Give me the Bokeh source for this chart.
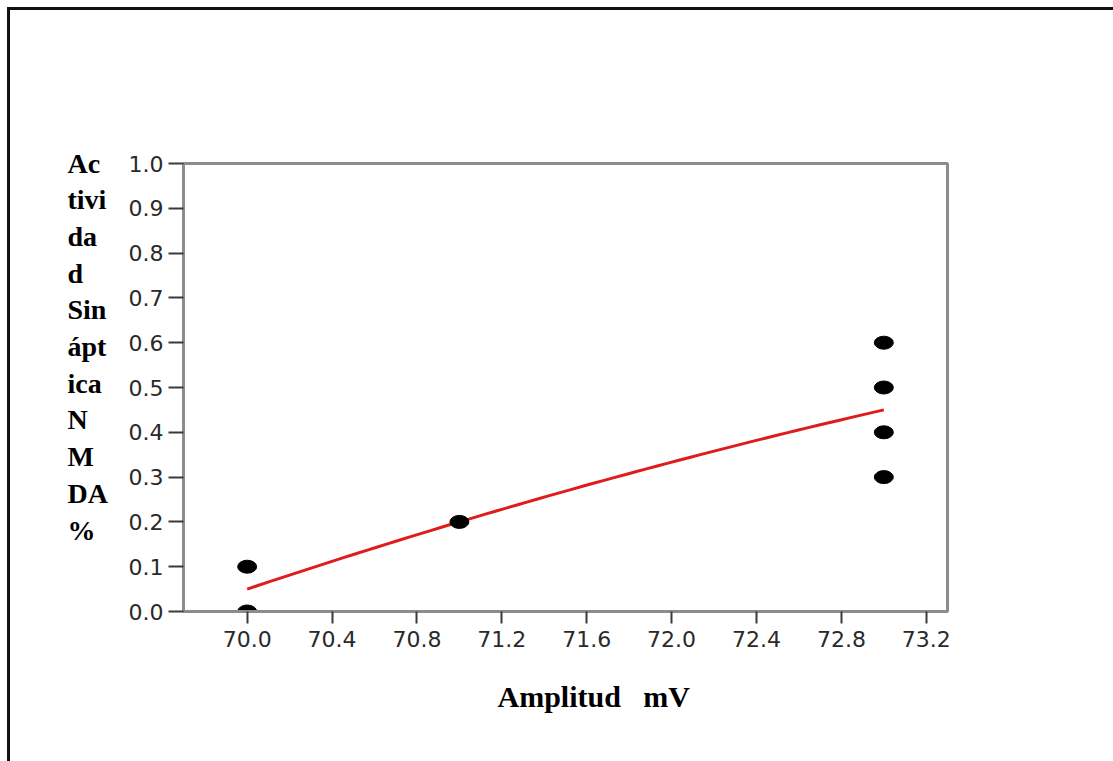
import numpy as np
from bokeh.plotting import figure
from bokeh.layouts import row
from bokeh.models import Range1d, FixedTicker, Title, Label, BasicTickFormatter
from bokeh.embed import file_html
from bokeh.resources import INLINE

# Measurements: amplitude (mV) vs NMDA synaptic activity (%)
amplitude = [70.0, 70.0, 71.0, 73.0, 73.0, 73.0, 73.0]
activity = [0.0, 0.1, 0.2, 0.3, 0.4, 0.5, 0.6]

x_ticks = [70.0, 70.4, 70.8, 71.2, 71.6, 72.0, 72.4, 72.8, 73.2]
x_tick_labels = ["70.0", "70.4", "70.8", "71.2", "71.6", "72.0", "72.4", "72.8", "73.2"]
y_ticks = [0.0, 0.1, 0.2, 0.3, 0.4, 0.5, 0.6, 0.7, 0.8, 0.9, 1.0]
y_tick_labels = ["0.0", "0.1", "0.2", "0.3", "0.4", "0.5", "0.6", "0.7", "0.8", "0.9", "1.0"]

y_title_lines = ["Ac", "tivi", "da", "d", "Sin", "ápt", "ica", "N", "M", "DA", "%"]
x_title = "Amplitud\u00a0\u00a0\u00a0mV"

# Page geometry (page pixels); the content sits inside a framed box offset by 10 px
PAGE_OFF = 10
H = 761 - PAGE_OFF
SPLIT = 123                      # page x where the chart column starts
SIDE_W = SPLIT - PAGE_OFF
MAIN_W = 1113 - SPLIT
PX_L, PX_R, PX_T, PX_B = 183, 947, 163, 611   # plotting frame, page pixels

TITLE_X = 67
TITLE_Y0 = 162.5
TITLE_STEP = 36.7
title_style = dict(text_font="Liberation Serif", text_font_style="bold",
                   text_font_size="28px", text_color="black")

# --- stacked title strip; its ranges are expressed in page pixels ---
side = figure(width=SIDE_W, height=H, output_backend="svg", toolbar_location=None,
              x_range=Range1d(PAGE_OFF, SPLIT), y_range=Range1d(PX_B, PX_T),
              x_axis_location=None, y_axis_location=None,
              min_border_left=0, min_border_right=0,
              min_border_top=PX_T - PAGE_OFF, min_border_bottom=761 - PX_B)
side.grid.visible = False
side.outline_line_color = None
side.background_fill_color = "white"
side.border_fill_color = "white"

# first line rises above the plotting frame, so it lives in the top panel
try:
    head = Title(text=y_title_lines[0], align="left", offset=TITLE_X - PAGE_OFF,
                 vertical_align="bottom", standoff=-30, **title_style)
except ValueError:
    head = Title(text=y_title_lines[0], align="left", offset=TITLE_X - PAGE_OFF,
                 vertical_align="bottom", standoff=0, **title_style)
side.add_layout(head, "above")

for i, t in enumerate(y_title_lines[1:], start=1):
    side.add_layout(Label(x=TITLE_X, y=TITLE_Y0 + i * TITLE_STEP, text=t,
                          text_align="left", text_baseline="alphabetic", **title_style))

# --- main chart ---
p = figure(width=MAIN_W, height=H, output_backend="svg", toolbar_location=None,
           x_range=Range1d(69.70, 73.30), y_range=Range1d(0.0, 1.0),
           min_border_left=PX_L - SPLIT, min_border_right=1113 - PX_R,
           min_border_top=PX_T - PAGE_OFF, min_border_bottom=761 - PX_B)
p.background_fill_color = "white"
p.border_fill_color = "white"
p.grid.visible = False
p.outline_line_color = "#8c8c8c"
p.outline_line_width = 3

p.xaxis.ticker = FixedTicker(ticks=x_ticks)
p.xaxis.formatter = BasicTickFormatter(precision=1)
p.xaxis.major_label_overrides = dict(zip(x_ticks, x_tick_labels))
p.yaxis.ticker = FixedTicker(ticks=y_ticks)
p.yaxis.formatter = BasicTickFormatter(precision=1)
p.yaxis.major_label_overrides = dict(zip(y_ticks, y_tick_labels))

for ax in (p.xaxis, p.yaxis):
    ax.axis_line_color = "#8c8c8c"
    ax.axis_line_width = 3
    ax.major_tick_line_color = "#3a3a3a"
    ax.major_tick_line_width = 2
    ax.major_tick_in = 0
    ax.minor_tick_line_color = None
    ax.major_label_text_font = "DejaVu Sans"
    ax.major_label_text_font_size = "22px"
    ax.major_label_text_color = "#2a2a2a"
p.xaxis.major_tick_out = 12
p.xaxis.major_label_standoff = 7
p.yaxis.major_tick_out = 15
p.yaxis.major_label_standoff = 5

# Quadratic least-squares trend through the measurements
coef = np.polyfit(amplitude, activity, 2)
fit_x = np.linspace(min(amplitude), max(amplitude), 60)
fit_y = np.polyval(coef, fit_x)
p.line(fit_x, fit_y, line_color="#e01b1b", line_width=3)

p.ellipse(x=amplitude, y=activity, width=19, height=13,
          width_units="screen", height_units="screen",
          fill_color="black", line_color="black")

p.add_layout(Title(text=x_title, align="left", offset=314, standoff=56,
                   text_font="Liberation Serif", text_font_style="bold",
                   text_font_size="30px", text_color="black"), "below")

page = row(side, p, spacing=0)
page.styles = {"margin-left": "7px", "margin-top": "7px",
               "border-top": "3px solid #111111", "border-left": "3px solid #111111"}

open("out.html", "w").write(file_html(page, INLINE))
